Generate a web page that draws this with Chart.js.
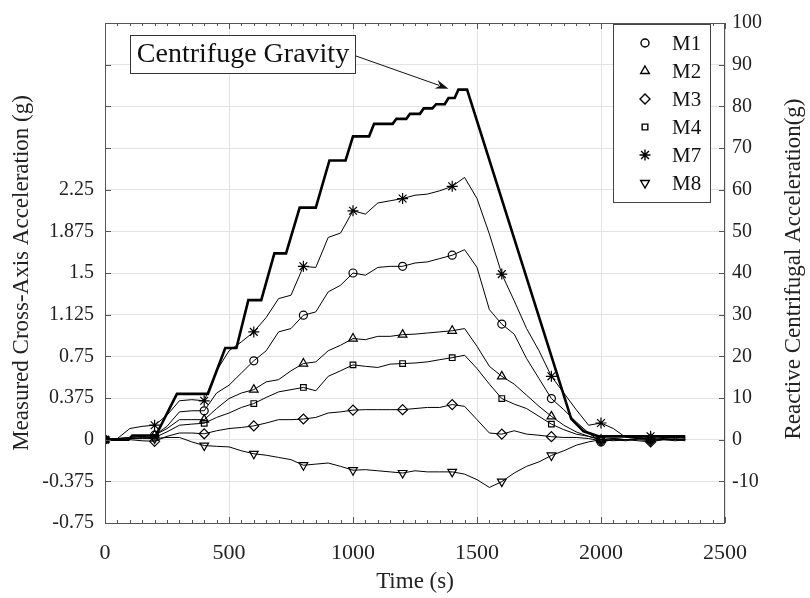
<!DOCTYPE html>
<html>
<head>
<meta charset="utf-8">
<script src="https://cdn.jsdelivr.net/npm/chart.js@4/dist/chart.umd.min.js"></script>
<style>
  body { margin: 0; background: #fff; }
  canvas { display: block; }
</style>
</head>
<body>
<canvas id="chart" width="810" height="598"></canvas>
<script>
// Sample times (s) for the measured cross-axis accelerations
var timeM = [0, 50, 100, 150, 200, 250, 300, 350, 400, 450, 500, 550, 600, 650, 700, 750, 800, 850, 900, 950,
  1000, 1050, 1100, 1150, 1200, 1250, 1300, 1350, 1400, 1450, 1500, 1550, 1600, 1650, 1700, 1750, 1800, 1850, 1900, 1950,
  2000, 2050, 2100, 2150, 2200, 2250, 2300, 2340];

// Measured cross-axis acceleration (g), left axis
var m1 = [0, 0.01, 0.02, 0.03, 0.04, 0.12, 0.25, 0.26, 0.26, 0.42, 0.49, 0.6, 0.71, 0.8, 0.97, 1.0, 1.12, 1.15, 1.33, 1.39,
  1.5, 1.48, 1.55, 1.56, 1.56, 1.59, 1.6, 1.63, 1.66, 1.71, 1.55, 1.17, 1.04, 0.95, 0.73, 0.55, 0.37, 0.27, 0.16, 0.06,
  -0.02, 0.0, -0.01, 0.01, 0.0, 0.01, 0.0, 0.0];
var m2 = [0, 0.01, 0.02, 0.03, 0.04, 0.1, 0.18, 0.18, 0.18, 0.28, 0.37, 0.42, 0.45, 0.52, 0.54, 0.62, 0.685, 0.7, 0.8, 0.85,
  0.91, 0.9, 0.93, 0.93, 0.945, 0.95, 0.96, 0.97, 0.98, 1.0, 0.84, 0.66, 0.57, 0.5, 0.4, 0.3, 0.21, 0.13, 0.07, 0.03,
  0.0, 0.01, 0.0, 0.01, 0.01, 0.0, 0.01, 0.0];
var m3 = [0, 0.0, 0.0, -0.01, -0.015, 0.03, 0.06, 0.06, 0.053, 0.08, 0.1, 0.11, 0.124, 0.15, 0.18, 0.18, 0.186, 0.2, 0.24, 0.25,
  0.266, 0.27, 0.27, 0.27, 0.27, 0.28, 0.29, 0.29, 0.316, 0.3, 0.18, 0.06, 0.05, 0.08, 0.05, 0.04, 0.027, 0.02, 0.02, 0.01,
  -0.01, 0.0, 0.0, -0.01, -0.02, 0.0, -0.01, 0.0];
var m4 = [0, 0.0, 0.01, 0.02, 0.02, 0.07, 0.13, 0.14, 0.148, 0.2, 0.24, 0.29, 0.325, 0.38, 0.43, 0.45, 0.47, 0.44, 0.57, 0.62,
  0.673, 0.66, 0.65, 0.68, 0.685, 0.69, 0.7, 0.72, 0.738, 0.76, 0.64, 0.5, 0.37, 0.32, 0.28, 0.21, 0.14, 0.09, 0.05, 0.03,
  0.0, 0.01, 0.0, 0.01, 0.0, 0.01, 0.0, 0.01];
var m7 = [0, 0.01, 0.1, 0.12, 0.13, 0.22, 0.35, 0.36, 0.35, 0.62, 0.8, 0.88, 0.97, 1.1, 1.27, 1.3, 1.56, 1.55, 1.82, 1.86,
  2.06, 2.03, 2.13, 2.15, 2.17, 2.2, 2.21, 2.24, 2.28, 2.36, 2.17, 1.85, 1.49, 1.25, 1.0, 0.8, 0.57, 0.42, 0.27, 0.13,
  0.15, 0.1, 0.02, 0.02, 0.03, 0.02, 0.02, 0.02];
var m8 = [0, -0.005, 0.01, 0.01, 0.01, 0.02, 0.02, -0.02, -0.053, -0.06, -0.065, -0.1, -0.127, -0.14, -0.16, -0.18, -0.23, -0.22, -0.21, -0.24,
  -0.275, -0.27, -0.28, -0.29, -0.3, -0.28, -0.29, -0.29, -0.29, -0.31, -0.36, -0.43, -0.378, -0.3, -0.24, -0.2, -0.142, -0.1, -0.05, -0.02,
  0.0, -0.01, 0.0, 0.0, -0.01, 0.0, 0.0, -0.01];

// Centrifuge gravity profile (right axis, g)
var gravityTime = [0, 95, 110, 205, 290, 415, 485, 530, 578, 630, 683, 730, 785, 850, 905, 970, 1000, 1065, 1085, 1160,
  1175, 1215, 1230, 1270, 1285, 1320, 1335, 1370, 1385, 1410, 1425, 1460, 1880, 1930, 1990, 2340];
var gravityG = [0, 0, 1, 1, 11, 11, 22, 22, 33.5, 33.5, 44.7, 44.7, 55.7, 55.7, 67, 67, 72.8, 72.8, 75.8, 75.8,
  77, 77, 78.2, 78.2, 79.5, 79.5, 80.5, 80.5, 82, 82, 84, 84, 5, 2, 0.8, 0.8];

var seriesNames = ['M1', 'M2', 'M3', 'M4', 'M7', 'M8'];
var seriesValues = [m1, m2, m3, m4, m7, m8];
var seriesMarkers = ['circle', 'triangle', 'rectRot', 'rect', 'star', 'triangle'];
var seriesRotation = [0, 0, 0, 0, 0, 180];
var markerSize = [4, 5, 5, 4, 5.5, 5];

var FONT = "'Liberation Serif', 'Times New Roman', serif";
Chart.defaults.font.family = FONT;
Chart.defaults.color = '#222';

function markerRadius(size) {
    return function (ctx) {
        var t = timeM[ctx.dataIndex];
        return (t % 200 === 0 && t <= 2200) ? size : 0;
    };
}

var datasets = seriesNames.map(function (name, k) {
    return {
        label: name,
        data: timeM.map(function (t, i) { return { x: t, y: seriesValues[k][i] }; }),
        yAxisID: 'y',
        borderColor: '#000',
        borderWidth: 1,
        pointStyle: seriesMarkers[k],
        rotation: seriesRotation[k],
        pointRadius: markerRadius(markerSize[k]),
        pointBorderColor: '#000',
        pointBackgroundColor: 'rgba(0,0,0,0)',
        pointBorderWidth: 1.2,
        tension: 0
    };
});

datasets.push({
    label: 'Centrifuge Gravity',
    data: gravityTime.map(function (t, i) { return { x: t, y: gravityG[i] }; }),
    yAxisID: 'y2',
    borderColor: '#000',
    borderWidth: 2.6,
    pointRadius: 0,
    tension: 0
});

// Frame, inward ticks, legend box, annotation and right title
var decorations = {
    id: 'decorations',
    afterDraw: function (chart) {
        var ctx = chart.ctx;
        var a = chart.chartArea;
        var xs = chart.scales.x, ys = chart.scales.y, y2 = chart.scales.y2;

        ctx.save();
        ctx.strokeStyle = '#555';
        ctx.lineWidth = 1;
        ctx.strokeRect(a.left + 0.5, a.top + 0.5, a.right - a.left - 1, a.bottom - a.top);

        ctx.beginPath();
        for (var t = 0; t <= 2500; t += 50) {
            var px = Math.round(xs.getPixelForValue(t)) + 0.5;
            var len = (t % 500 === 0) ? 6 : 3;
            ctx.moveTo(px, a.bottom); ctx.lineTo(px, a.bottom - len);
            ctx.moveTo(px, a.top); ctx.lineTo(px, a.top + len);
        }
        ys.ticks.forEach(function (tk) {
            var py = Math.round(ys.getPixelForValue(tk.value)) + 0.5;
            ctx.moveTo(a.left, py); ctx.lineTo(a.left + 6, py);
        });
        y2.ticks.forEach(function (tk) {
            var py = Math.round(y2.getPixelForValue(tk.value)) + 0.5;
            ctx.moveTo(a.right, py); ctx.lineTo(a.right - 6, py);
        });
        ctx.stroke();

        // legend
        var lx = 613, ly = 24, lw = 97, lh = 178;
        ctx.fillStyle = '#fff';
        ctx.fillRect(lx, ly, lw, lh);
        ctx.strokeStyle = '#444';
        ctx.strokeRect(lx + 0.5, ly + 0.5, lw, lh);
        ctx.font = '21px ' + FONT;
        ctx.textBaseline = 'middle';
        ctx.textAlign = 'left';
        seriesNames.forEach(function (name, k) {
            var yy = 43 + k * 28;
            ctx.strokeStyle = '#000';
            ctx.fillStyle = 'rgba(0,0,0,0)';
            ctx.lineWidth = 1.4;
            Chart.helpers.drawPoint(ctx, {
                pointStyle: seriesMarkers[k],
                rotation: seriesRotation[k],
                radius: markerSize[k],
                borderWidth: 1.4
            }, 645, yy);
            ctx.fillStyle = '#111';
            ctx.fillText(name, 672, yy + 1);
        });

        // annotation box and arrow
        ctx.lineWidth = 1;
        ctx.fillStyle = '#fff';
        ctx.fillRect(130, 35, 225, 38);
        ctx.strokeStyle = '#333';
        ctx.strokeRect(130.5, 35.5, 225, 38);
        ctx.fillStyle = '#111';
        ctx.font = '28px ' + FONT;
        ctx.textAlign = 'center';
        ctx.fillText('Centrifuge Gravity', 243, 55);

        var x0 = 356, y0 = 56;
        var x1 = xs.getPixelForValue(1385), y1 = y2.getPixelForValue(84) - 1;
        var ang = Math.atan2(y1 - y0, x1 - x0);
        ctx.strokeStyle = '#111';
        ctx.beginPath();
        ctx.moveTo(x0, y0);
        ctx.lineTo(x1 - 10 * Math.cos(ang), y1 - 10 * Math.sin(ang));
        ctx.stroke();
        ctx.beginPath();
        ctx.moveTo(x1, y1);
        ctx.lineTo(x1 - 13 * Math.cos(ang) + 4.5 * Math.sin(ang), y1 - 13 * Math.sin(ang) - 4.5 * Math.cos(ang));
        ctx.lineTo(x1 - 9 * Math.cos(ang), y1 - 9 * Math.sin(ang));
        ctx.lineTo(x1 - 13 * Math.cos(ang) - 4.5 * Math.sin(ang), y1 - 13 * Math.sin(ang) + 4.5 * Math.cos(ang));
        ctx.closePath();
        ctx.fill();

        // right axis title, reading bottom to top
        ctx.font = '23px ' + FONT;
        ctx.fillStyle = '#222';
        ctx.translate(794, (a.top + a.bottom) / 2 - 4);
        ctx.rotate(-Math.PI / 2);
        ctx.textAlign = 'center';
        ctx.textBaseline = 'middle';
        ctx.fillText('Reactive Centrifugal Acceleration(g)', 0, 0);
        ctx.restore();
    }
};

var config = {
    type: 'line',
    data: { datasets: datasets },
    options: {
        responsive: false,
        animation: false,
        layout: { padding: { top: 15, left: 0, right: 0, bottom: 0 } },
        plugins: {
            legend: { display: false },
            tooltip: { enabled: false }
        },
        scales: {
            x: {
                type: 'linear',
                min: 0, max: 2500,
                ticks: {
                    stepSize: 500, padding: 17, font: { size: 22 }, color: '#222',
                    callback: function (v) { return String(v); }
                },
                grid: { color: '#e3e3e3', tickLength: 0 },
                border: { display: false },
                title: { display: true, text: 'Time (s)', font: { size: 23 }, color: '#222', padding: { top: 0, bottom: 2 } },
                afterFit: function (scale) { scale.height = 75; }
            },
            y: {
                position: 'left',
                min: -0.75, max: 3.75,
                ticks: {
                    stepSize: 0.375, padding: 11, font: { size: 20 }, color: '#222',
                    callback: function (v) { return v > 2.2501 ? '' : String(v); }
                },
                grid: { color: '#e3e3e3', tickLength: 0 },
                border: { display: false },
                title: { display: true, text: 'Measured Cross-Axis Acceleration (g)', font: { size: 23 }, color: '#222', padding: { top: 8, bottom: 0 } },
                afterFit: function (scale) { scale.width = 105; }
            },
            y2: {
                position: 'right',
                min: -20, max: 100,
                ticks: {
                    stepSize: 10, padding: 7, font: { size: 20 }, color: '#222',
                    callback: function (v) { return v === -20 ? '' : String(v); }
                },
                grid: { drawOnChartArea: false, tickLength: 0 },
                border: { display: false },
                afterFit: function (scale) { scale.width = 85; }
            }
        }
    },
    plugins: [decorations]
};

var ctx1 = document.getElementById('chart').getContext('2d');
new Chart(ctx1, config);
</script>
</body>
</html>
